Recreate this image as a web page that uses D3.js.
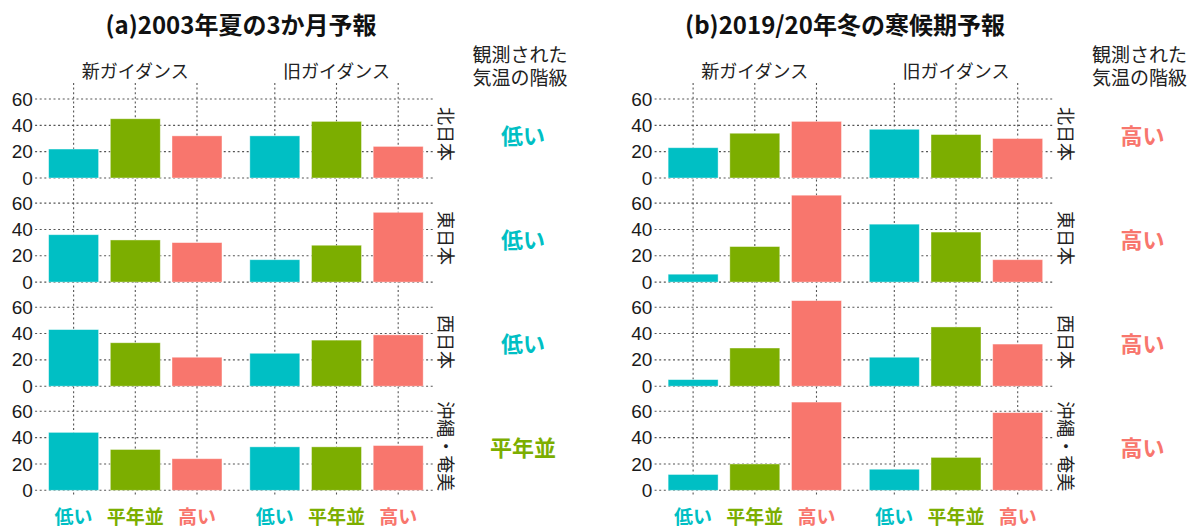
<!DOCTYPE html>
<html><head><meta charset="utf-8">
<script src="https://cdn.jsdelivr.net/npm/d3@7"></script>
<style>
html,body{margin:0;padding:0;background:#fff;}
svg{display:block;}
</style></head>
<body>
<svg id="chart" width="1193" height="529"></svg>
<script>
// ---- data ----
const classes = ["低い", "平年並", "高い"];
const guidances = ["新ガイダンス", "旧ガイダンス"];
const regions = ["北日本", "東日本", "西日本", "沖縄・奄美"];
const yTicks = [0, 20, 40, 60];
const titles = ["(a)2003年夏の3か月予報", "(b)2019/20年冬の寒候期予報"];
const obsHeader = ["観測された", "気温の階級"];
// values per region: [低い, 平年並, 高い] (%)
const summerNew = [[22, 45, 32], [36, 32, 30], [43, 33, 22], [44, 31, 24]];
const summerOld = [[32, 43, 24], [17, 28, 53], [25, 35, 39], [33, 33, 34]];
const winterNew = [[23, 34, 43], [6, 27, 66], [5, 29, 65], [12, 20, 67]];
const winterOld = [[37, 33, 30], [44, 38, 17], [22, 45, 32], [16, 25, 59]];
const summerObs = ["低い", "低い", "低い", "平年並"];
const winterObs = ["高い", "高い", "高い", "高い"];

const blocks = [
  { title: titles[0], data: [summerNew, summerOld], obs: summerObs, ox: 0, titleX: 241 },
  { title: titles[1], data: [winterNew, winterOld], obs: winterObs, ox: 619.5, titleX: 845 }
];

const color = d3.scaleOrdinal().domain(classes).range(["#00BFC4", "#7CAE00", "#F8766D"]);
const cjk = "'Noto Sans CJK JP','Noto Sans',sans-serif";
const num = "'Liberation Sans',Arial,sans-serif";

const svg = d3.select("#chart");

// layout
const ppu = 79 / 60;                 // pixels per unit
const rowTop0 = 99 - 10.4 * ppu;     // top of first panel
const rowH = 73.8 * ppu;
const rowPitch = 104.1;
const colRanges = [[36.6, 234.0], [237.8, 435.2]];

blocks.forEach(b => {
  const g = svg.append("g").attr("transform", `translate(${b.ox},0)`);

  // title
  svg.append("text").attr("x", b.titleX).attr("y", 23)
    .attr("text-anchor", "middle").attr("dominant-baseline", "central")
    .style("font-family", cjk).style("font-weight", "bold").style("font-size", "24px")
    .attr("fill", "#111").text(b.title);

  // header right (two lines in one text)
  const hx = 520;
  const ht = g.append("text").attr("text-anchor", "middle")
    .style("font-family", cjk).style("font-size", "19px").attr("fill", "#222");
  obsHeader.forEach((t, i) => {
    ht.append("tspan").attr("x", hx).attr("y", 61.5 + i * 23).text(t);
  });

  const xScales = colRanges.map(r => d3.scaleBand().domain(classes).range(r)
    .paddingInner(0.19).paddingOuter(0.195));

  // column headers
  guidances.forEach((gd, ci) => {
    const r = colRanges[ci];
    g.append("text").attr("x", (r[0] + r[1]) / 2).attr("y", 70)
      .attr("text-anchor", "middle").attr("dominant-baseline", "central")
      .style("font-family", cjk).style("font-size", "18px").attr("fill", "#222").text(gd);
  });

  // vertical grid lines (continuous through rows)
  const lastBottom = rowTop0 + 3 * rowPitch + rowH;
  xScales.forEach(xs => {
    classes.forEach(c => {
      const cx = xs(c) + xs.bandwidth() / 2;
      g.append("line").attr("x1", cx).attr("x2", cx).attr("y1", 83).attr("y2", lastBottom)
        .attr("stroke", "#555").attr("stroke-width", 1.1).attr("stroke-dasharray", "2,2.6");
    });
  });

  regions.forEach((reg, ri) => {
    const top = rowTop0 + ri * rowPitch;
    const y = d3.scaleLinear().domain([-3.4, 70.4]).range([top + rowH, top]);

    // horizontal grid
    yTicks.forEach(t => {
      g.append("line").attr("x1", colRanges[0][0] - 1.5).attr("x2", colRanges[1][1])
        .attr("y1", y(t)).attr("y2", y(t))
        .attr("stroke", "#555").attr("stroke-width", 1.1).attr("stroke-dasharray", "2,2.6");
    });

    // y axis
    const ax = g.append("g").attr("transform", `translate(${colRanges[0][0]},0)`)
      .call(d3.axisLeft(y).tickValues(yTicks).tickSize(0).tickPadding(3.8));
    ax.select(".domain").remove();
    ax.selectAll("text").style("font-family", num).style("font-size", "19px").attr("fill", "#1a1a1a");

    // bars
    b.data.forEach((series, ci) => {
      const xs = xScales[ci];
      g.selectAll(null).data(series[ri].map((v, k) => ({ c: classes[k], v }))).enter()
        .append("rect")
        .attr("x", d => xs(d.c)).attr("width", xs.bandwidth())
        .attr("y", d => y(d.v)).attr("height", d => y(0) - y(d.v))
        .attr("fill", d => color(d.c))
        .attr("stroke", "#fff").attr("stroke-opacity", 0.5).attr("stroke-width", 0.8);
    });

    // strip label (rotated)
    const cy = top + rowH / 2;
    g.append("text").attr("transform", `translate(447,${cy}) rotate(90)`)
      .attr("text-anchor", "middle").attr("dominant-baseline", "central")
      .style("font-family", cjk).style("font-size", "18px").attr("fill", "#222").text(reg);

    // observed class
    g.append("text").attr("x", 523).attr("y", cy)
      .attr("text-anchor", "middle").attr("dominant-baseline", "central")
      .style("font-family", cjk).style("font-weight", "bold").style("font-size", "22px")
      .attr("fill", color(b.obs[ri])).text(b.obs[ri]);
  });

  // bottom category labels
  xScales.forEach(xs => {
    classes.forEach(c => {
      g.append("text").attr("x", xs(c) + xs.bandwidth() / 2).attr("y", 515)
        .attr("text-anchor", "middle").attr("dominant-baseline", "central")
        .style("font-family", cjk).style("font-weight", "bold").style("font-size", "19px")
        .attr("fill", color(c)).text(c);
    });
  });
});
</script>
</body></html>
